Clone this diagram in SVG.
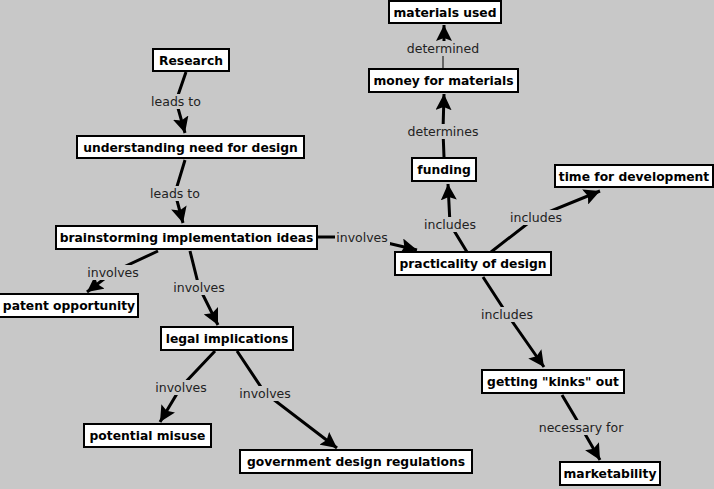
<svg xmlns="http://www.w3.org/2000/svg" width="714" height="489" viewBox="0 0 714 489">
<style>
.bg{fill:#c8c8c8}
.node rect{fill:#fff;stroke:#000;stroke-width:2}
.node text{font-family:"DejaVu Sans",sans-serif;font-weight:bold;font-size:12.3px;fill:#000;text-anchor:middle}
.edge{fill:none;stroke:#000;stroke-width:3}
.thin{fill:none;stroke:#000;stroke-width:1}
.lbg{fill:#c8c8c8}
.lbl{font-family:"DejaVu Sans",sans-serif;font-size:12.5px;fill:#222;text-anchor:middle}
</style>
<defs>
<marker id="ah" markerUnits="userSpaceOnUse" markerWidth="18" markerHeight="16" refX="16" refY="8" orient="auto">
<path d="M0,0 L16,8 L0,16 L3,8 z" fill="#000"/>
</marker>
</defs>
<rect class="bg" x="0" y="0" width="714" height="489"/>
<g id="connectors">
<polyline class="edge" points="186,72 176,101 185,133" marker-end="url(#ah)"/>
<polyline class="edge" points="185,160 175,193 183,223" marker-end="url(#ah)"/>
<polyline class="edge" points="158,251 113,272 87,292" marker-end="url(#ah)"/>
<polyline class="edge" points="190,251 199,287 218,325" marker-end="url(#ah)"/>
<polyline class="edge" points="318,237 362,237 417,250" marker-end="url(#ah)"/>
<polyline class="edge" points="467,252 450,224 448,184" marker-end="url(#ah)"/>
<polyline class="edge" points="444,157 443,131 444,94" marker-end="url(#ah)"/>
<line class="thin" x1="443" y1="69" x2="443" y2="50"/>
<line class="edge" x1="444" y1="41" x2="444" y2="25" marker-end="url(#ah)"/>
<polyline class="edge" points="491,252 536,217 600,191" marker-end="url(#ah)"/>
<polyline class="edge" points="483,277 507,314 544,367" marker-end="url(#ah)"/>
<polyline class="edge" points="562,395 581,427 600,460" marker-end="url(#ah)"/>
<polyline class="edge" points="215,351 181,387 160,422" marker-end="url(#ah)"/>
<polyline class="edge" points="237,351 265,393 337,448" marker-end="url(#ah)"/>
<rect class="lbg" x="148" y="94" width="56" height="15"/><text class="lbl" x="176" y="106">leads to</text>
<rect class="lbg" x="147" y="186" width="56" height="15"/><text class="lbl" x="175" y="198">leads to</text>
<rect class="lbg" x="86" y="265" width="54" height="15"/><text class="lbl" x="113" y="277">involves</text>
<rect class="lbg" x="172" y="280" width="54" height="15"/><text class="lbl" x="199" y="292">involves</text>
<rect class="lbg" x="335" y="230" width="55" height="15"/><text class="lbl" x="362" y="242">involves</text>
<rect class="lbg" x="423" y="217" width="54" height="15"/><text class="lbl" x="450" y="229">includes</text>
<rect class="lbg" x="406" y="124" width="74" height="15"/><text class="lbl" x="443" y="136">determines</text>
<rect class="lbg" x="406" y="42" width="74" height="14"/><text class="lbl" x="443" y="53">determined</text>
<rect class="lbg" x="509" y="210" width="54" height="15"/><text class="lbl" x="536" y="222">includes</text>
<rect class="lbg" x="480" y="307" width="54" height="15"/><text class="lbl" x="507" y="319">includes</text>
<rect class="lbg" x="538" y="420" width="86" height="15"/><text class="lbl" x="581" y="432">necessary for</text>
<rect class="lbg" x="154" y="380" width="54" height="15"/><text class="lbl" x="181" y="392">involves</text>
<rect class="lbg" x="238" y="386" width="54" height="15"/><text class="lbl" x="265" y="398">involves</text>
</g>
<g id="n_materials" class="node"><rect x="389" y="1" width="112" height="22"/><text x="445" y="16.5">materials used</text></g>
<g id="n_money" class="node"><rect x="369" y="69" width="149" height="23"/><text x="443.5" y="85">money for materials</text></g>
<g id="n_research" class="node"><rect x="153" y="49" width="76" height="22"/><text x="191" y="64.5">Research</text></g>
<g id="n_understanding" class="node"><rect x="77" y="136" width="227" height="22"/><text x="190.5" y="151.5">understanding need for design</text></g>
<g id="n_funding" class="node"><rect x="412" y="158" width="64" height="23"/><text x="444" y="174">funding</text></g>
<g id="n_time" class="node"><rect x="555" y="165" width="158" height="22"/><text x="634" y="180.5">time for development</text></g>
<g id="n_brainstorming" class="node"><rect x="56" y="226" width="261" height="23"/><text x="186.5" y="242">brainstorming implementation ideas</text></g>
<g id="n_practicality" class="node"><rect x="395" y="252" width="156" height="23"/><text x="473" y="268">practicality of design</text></g>
<g id="n_patent" class="node"><rect x="-1" y="294" width="139" height="23"/><text x="69" y="310">patent opportunity</text></g>
<g id="n_legal" class="node"><rect x="161" y="327" width="132" height="23"/><text x="227" y="343">legal implications</text></g>
<g id="n_kinks" class="node"><rect x="482" y="370" width="142" height="23"/><text x="553" y="386">getting "kinks" out</text></g>
<g id="n_misuse" class="node"><rect x="84" y="424" width="127" height="23"/><text x="147.5" y="440">potential misuse</text></g>
<g id="n_government" class="node"><rect x="240" y="450" width="232" height="23"/><text x="356" y="466">government design regulations</text></g>
<g id="n_marketability" class="node"><rect x="560" y="462" width="100" height="23"/><text x="610" y="478">marketability</text></g>
</svg>
